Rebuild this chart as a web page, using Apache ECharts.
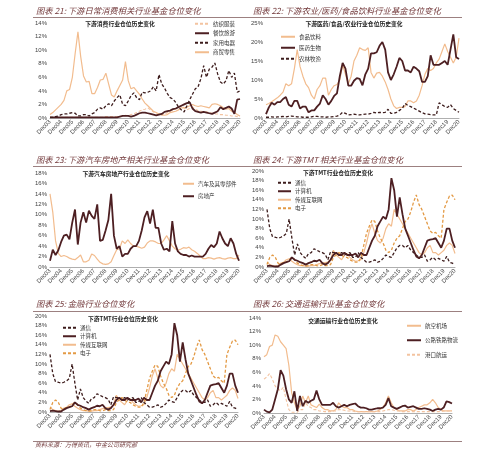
<!DOCTYPE html>
<html><head><meta charset="utf-8">
<script src="https://cdn.jsdelivr.net/npm/echarts@6/dist/echarts.min.js"></script>
<style>html,body{margin:0;padding:0;background:#fff}#c{width:500px;height:458px}</style>
</head><body><div id="c"></div>
<script>
// ---- categories (quarter ends, Dec03 .. Dec20) ----
const yearCodes = ['03','04','05','06','07','08','09','10','11','12','13','14','15','16','17','18','19','20'];
const quarterNames = ['Mar','Jun','Sep','Dec'];
const categories = ['Dec' + yearCodes[0]];
for (let i = 1; i < yearCodes.length; i++) for (const q of quarterNames) categories.push(q + yearCodes[i]);

// ---- Chart 21 ----
const c21_textile = [0.1,0.1,0.1,0.1,0.1,0.1,0.1,0.1,0.1,0.1, 0.1,0.1,0.1,0.1,0.1,0.1,0.1,0.1,0.1,0.1, 0.2,0.2,0.2,0.2,0.2,0.2,0.3,0.4,0.3,0.5, 0.6,0.8,1.0,1.2,1.3,1.5,1.2,0.9,0.6,0.5, 0.4,0.5,0.8,1.0,1.2,1.3,1.6,1.8,1.5,1.2, 1.4,1.6,1.3,1.1,1.0,0.9,0.9,0.8,0.7,0.6, 0.6,0.5,0.5,0.4,0.4,0.3,0.3,0.2,0.2];
const c21_catering = [0.1,0.1,0.1,0.1,0.1,0.1,0.1,0.1,0.1,0.1, 0.1,0.1,0.1,0.1,0.1,0.1,0.1,0.1,0.1,0.1, 0.1,0.1,0.1,0.1,0.1,0.2,0.3,0.3,0.3,0.2, 0.3,0.5,0.7,0.8,0.8,0.7,0.6,0.5,0.4,0.5, 0.6,0.9,1.0,1.1,1.3,1.4,1.6,1.8,2.0,2.2, 2.3,1.4,1.0,0.9,0.8,0.9,0.8,0.7,0.6,0.8, 1.0,1.6,1.3,1.5,1.7,1.4,0.6,2.7,2.8];
const c21_appliance = [0.1,0.1,0.2,0.3,0.5,0.6,0.6,0.7,0.8,0.7, 0.3,0.3,0.5,0.5,0.3,0.6,0.8,1.3,1.5,1.3, 1.8,2.1,1.8,2.5,3.0,3.4,2.0,1.8,2.5,3.3, 3.7,3.0,2.7,3.8,3.7,3.8,4.0,4.6,4.0,6.4, 5.0,4.4,3.6,3.0,2.8,2.3,1.6,1.2,0.9,1.8, 2.7,3.5,4.3,4.6,5.8,7.7,6.0,7.2,7.5,8.1, 6.5,5.3,5.0,5.5,7.0,6.0,6.6,3.8,4.0];
const c21_retail = [0.5,0.8,1.2,1.6,2.0,2.6,4.0,4.2,6.0,9.5, 12.7,9.0,6.2,5.3,5.4,3.6,3.6,4.5,5.6,5.7, 6.6,5.0,3.4,3.1,4.0,4.8,5.6,8.3,5.5,4.3, 4.5,4.0,3.5,2.8,2.2,1.8,1.4,1.0,0.8,0.6, 0.5,0.4,0.5,0.8,0.9,1.0,1.2,1.5,1.5,1.6, 1.8,2.0,1.8,1.7,1.8,1.7,1.6,1.5,2.0,2.1, 2.0,1.8,1.5,1.3,1.4,1.0,0.8,0.5,0.3];

// ---- Chart 22 ----
const c22_food = [3.5,3.8,4.3,4.8,5.3,6.0,6.8,9.0,8.5,9.0, 13.0,18.0,13.5,11.0,9.0,8.0,6.0,5.0,7.5,8.5, 10.5,10.5,6.0,7.5,8.5,8.8,10.0,14.0,11.5,9.0, 11.0,15.0,16.5,18.5,18.0,17.8,18.5,12.0,10.5,11.8, 12.0,11.0,9.5,7.5,5.0,3.2,2.5,2.8,2.8,3.0, 4.5,4.5,4.0,4.5,6.0,8.5,11.5,13.0,12.5,13.0, 14.5,15.5,17.5,19.5,17.5,16.0,14.5,16.0,21.0];
const c22_pharma = [1.0,2.8,4.0,3.5,4.2,4.2,5.0,5.5,3.5,3.0, 4.5,4.5,2.5,3.0,3.0,1.5,2.0,2.0,3.0,3.8, 6.0,5.0,3.5,4.5,5.8,6.5,11.0,14.5,13.0,8.5, 8.5,9.8,10.5,10.3,8.6,11.5,13.0,17.0,17.0,17.3, 19.0,20.0,18.0,12.0,10.0,11.5,13.5,15.8,15.0,12.5, 12.5,12.0,13.5,13.0,12.3,9.5,9.5,11.0,16.5,14.0, 14.0,14.0,14.5,15.0,14.0,18.0,22.0,16.0,15.5];
const c22_agri = [0.2,0.2,0.3,0.2,0.3,0.3,0.4,0.3,0.4,0.5, 0.4,0.3,0.3,0.2,0.2,0.2,0.3,0.5,0.4,0.3, 0.3,0.2,0.3,0.3,0.4,0.5,0.8,1.5,1.2,0.8, 0.9,1.0,0.9,0.8,0.9,1.0,1.0,1.2,1.5,1.3, 1.5,1.4,1.5,2.3,1.2,1.2,1.5,2.0,2.5,3.8, 3.3,3.0,2.6,2.2,1.8,1.4,1.1,1.0,0.9,0.8, 0.8,4.0,3.5,3.0,2.8,3.5,2.5,2.0,1.5];

// ---- Chart 23 ----
const c23_auto = [14.0,10.5,5.0,2.6,2.0,2.2,2.0,1.7,1.5,1.4, 1.8,2.3,1.0,1.0,1.3,2.5,2.2,1.5,0.9,0.6, 0.5,0.6,1.0,2.2,3.3,3.5,5.0,4.5,5.2,4.5, 4.0,4.0,3.8,3.6,3.8,4.6,5.0,5.0,4.8,4.5, 4.5,5.2,6.0,5.0,4.0,3.5,3.2,3.4,3.7,3.6, 3.8,3.3,3.0,2.6,2.1,1.6,1.6,1.8,1.7,1.5, 1.7,1.8,1.6,1.5,1.7,1.8,1.6,1.6,2.3];
const c23_realty = [1.2,3.3,2.3,3.2,4.8,6.0,6.2,5.3,8.5,11.0, 4.3,8.5,10.5,8.5,10.8,9.8,9.2,12.0,5.0,5.2, 7.0,9.0,14.0,6.0,3.5,4.0,2.0,2.5,2.5,3.5, 4.0,4.0,5.0,7.0,9.5,10.7,8.3,11.0,7.5,7.5, 4.5,3.3,3.5,3.0,8.8,4.5,3.0,2.5,2.3,2.3, 2.0,2.2,2.0,2.0,2.0,2.0,2.5,3.5,4.2,3.8, 4.5,6.8,5.5,4.5,4.0,5.5,4.5,2.5,1.2];

// ---- Chart 24 / 25 (TMT) ----
const tmt_telecom = [12.0,8.0,6.3,6.2,6.0,6.2,6.5,7.0,10.0,6.0, 2.5,4.8,3.0,2.3,1.8,2.8,3.0,3.8,3.5,3.2, 3.0,2.7,1.5,3.2,3.0,3.0,2.5,3.0,2.5,2.8, 3.0,2.0,2.0,3.0,2.0,1.5,1.0,1.0,1.2,1.5, 1.0,1.2,1.8,2.5,2.2,2.0,3.0,4.0,4.5,4.5, 4.0,4.5,3.5,3.0,2.5,2.0,2.0,2.5,1.2,1.5, 2.0,1.5,1.8,1.5,1.2,2.2,1.0,0.8,0.5];
const tmt_computer = [0.2,0.3,0.2,0.1,0.1,0.5,0.8,1.0,1.2,2.0, 1.5,1.3,1.0,0.8,0.5,0.8,1.0,1.3,1.2,1.5, 0.8,0.5,0.8,1.5,2.5,3.0,2.5,2.5,3.0,2.5, 2.5,2.5,2.8,2.0,3.0,2.5,2.5,4.0,5.5,6.5, 8.5,9.5,10.5,10.0,12.0,18.5,16.0,10.5,14.5,11.0, 8.0,6.5,5.0,3.5,2.2,1.8,2.5,4.0,5.5,5.7, 5.8,6.0,5.0,4.0,5.5,8.0,8.0,5.5,4.0];
const tmt_media = [1.0,0.5,0.3,0.2,0.3,0.8,1.0,1.5,1.7,1.2, 0.8,0.5,0.3,0.3,0.2,0.2,0.3,0.3,0.5,0.7, 0.8,0.9,1.0,1.5,3.5,2.5,2.0,1.5,2.5,2.8, 2.0,1.5,1.2,1.3,1.5,3.0,5.0,7.5,9.0,7.0, 5.5,5.0,6.0,8.0,9.0,8.5,12.0,11.0,10.0,9.0, 8.0,7.0,6.0,5.0,4.0,3.0,2.5,3.0,4.0,4.5, 3.0,3.0,2.5,3.0,3.5,4.5,5.0,4.5,2.8];
const tmt_electronics = [0.5,2.0,2.5,2.0,0.8,0.5,1.0,1.0,1.5,2.0, 1.5,0.8,0.5,0.3,0.2,0.3,0.5,0.5,0.3,0.2, 0.5,0.3,0.3,0.5,2.0,2.5,3.0,2.5,2.0,2.0, 1.5,1.2,1.0,1.0,2.0,4.5,7.0,8.5,9.8,9.5, 7.5,6.0,5.0,3.5,3.0,3.5,5.0,6.0,6.5,8.0, 9.5,10.0,11.5,13.5,15.0,13.0,12.0,10.5,9.0,7.5, 7.0,7.2,6.5,6.0,12.0,13.5,14.8,15.0,14.0];

// ---- Chart 26 ----
const c26_air = [8.3,8.6,9.8,10.0,11.5,11.3,10.5,10.0,9.5,7.0, 3.0,1.5,0.5,1.0,2.5,1.5,2.5,1.2,1.0,0.8, 1.3,0.8,0.5,0.5,0.3,0.3,0.5,1.5,1.0,0.8, 0.8,0.5,0.5,0.3,0.2,0.2,0.2,0.2,0.2,0.2, 0.2,0.3,0.5,0.8,1.5,2.5,1.5,0.8,0.5,0.3, 0.3,0.3,0.5,0.5,0.3,0.5,0.8,1.0,1.2,1.2, 1.5,2.0,1.5,0.8,0.5,0.3,0.3,0.3,0.3];
const c26_road = [0.5,0.2,0.1,0.5,2.0,3.5,6.3,5.5,3.5,2.0, 1.5,3.2,0.3,2.5,1.0,1.8,1.5,1.8,2.0,3.3, 2.0,1.2,1.2,1.2,1.2,1.5,1.0,0.8,1.0,1.2, 1.0,1.2,1.3,1.4,1.0,0.8,0.8,0.7,0.5,0.5, 0.6,0.7,0.7,0.8,1.2,2.2,1.0,0.8,0.6,0.8, 1.0,1.1,0.8,0.9,1.0,0.8,0.6,0.6,0.7,0.6, 0.5,0.3,0.5,0.6,0.5,0.8,1.7,1.6,1.4];
const c26_port = [5.0,5.3,5.8,5.0,4.0,3.5,3.3,3.8,2.0,0.5, 0.1,0.1,0.1,0.5,0.5,1.5,1.0,0.8,0.5,0.5, 0.3,0.3,0.2,0.2,0.2,0.3,0.3,0.5,0.5,0.4, 0.3,0.3,0.3,0.2,0.2,0.2,0.2,0.2,0.2,0.2, 0.2,0.2,0.2,0.3,0.4,0.5,0.5,0.4,0.3,0.3, 0.2,0.2,0.2,0.2,0.2,0.2,0.2,0.2,0.2,0.2, 0.2,0.2,0.2,0.2,0.2,0.3,0.3,0.3,0.3];

// ---- axis ranges ----
const yMax = [14, 25, 18, 20, 20, 14];
const yStep = [2, 5, 2, 2, 2, 2];

// ---- texts ----
const outerTitles = ['图表 21: 下游日常消费相关行业基金仓位变化','图表 22: 下游农业/医药/食品饮料行业基金仓位变化','图表 23: 下游汽车房地产相关行业基金仓位变化','图表 24: 下游TMT 相关行业基金仓位变化','图表 25: 金融行业仓位变化','图表 26: 交通运输行业基金仓位变化'];
const innerTitles = ['下游消费行业仓位历史变化','下游医药/食品/农业行业仓位历史变化','下游汽车房地产行业仓位历史变化','下游TMT行业仓位历史变化','下游TMT行业仓位历史变化','交通运输行业仓位历史变化'];
const sourceText = '资料来源：万得资讯，中金公司研究部';

// ---- styling ----
const PEACH = '#f2bc8e', DARK = '#4d1f22', DDASH = '#3d1c1c', LDASH = '#f3c3a0', ORANGE = '#e39a45';
const FONT = '"Noto Sans CJK SC", "Noto Sans", sans-serif';
const TITLE_C = '#72383a';

const grids = [
  {left:50, top:23, width:190, height:95},
  {left:266, top:23, width:193, height:95},
  {left:50, top:173, width:189, height:94},
  {left:267, top:171, width:188, height:96},
  {left:50, top:316, width:188, height:96},
  {left:264, top:318, width:188, height:95}
];
const outerPos = [[36,7],[253,7],[36,156],[253,156],[36,300],[253,300]];
const innerPos = [[120,25],[354,25],[126,175],[338,174],[123,320],[343,322]];

function S(name, data, g, color, width, dashed, z) {
  return {name, type:'line', data, xAxisIndex:g, yAxisIndex:g, symbol:'none', showSymbol:false,
    lineStyle:{color, width, type: dashed ? [3,2] : 'solid'}, itemStyle:{color}, z: z||2, animation:false};
}

const series = [
  S('纺织服装', c21_textile, 0, LDASH, 1.1, true),
  S('餐饮旅游', c21_catering, 0, DARK, 1.8, false, 3),
  S('家用电器', c21_appliance, 0, DDASH, 1.3, true, 3),
  S('商贸零售', c21_retail, 0, PEACH, 1.2, false),
  S('食品饮料', c22_food, 1, PEACH, 1.2, false),
  S('医药生物', c22_pharma, 1, DARK, 1.8, false, 3),
  S('农林牧渔', c22_agri, 1, DDASH, 1.3, true, 3),
  S('汽车及其零部件', c23_auto, 2, PEACH, 1.2, false),
  S('房地产', c23_realty, 2, DARK, 1.8, false, 3),
];
for (const g of [3,4]) {
  series.push(S('通信', tmt_telecom, g, DDASH, 1.3, true, 3));
  series.push(S('计算机', tmt_computer, g, DARK, 1.8, false, 3));
  series.push(S('传媒互联网', tmt_media, g, PEACH, 1.2, false));
  series.push(S('电子', tmt_electronics, g, ORANGE, 1.3, true));
}
series.push(S('航空机场', c26_air, 5, PEACH, 1.2, false));
series.push(S('公路铁路物流', c26_road, 5, DARK, 1.8, false, 3));
series.push(S('港口航运', c26_port, 5, LDASH, 1.1, true));

function L(left, top, gap, w, names) {
  return {left, top, orient:'vertical', itemGap:gap, itemWidth:w, itemHeight:5, padding:0,
    itemStyle:{opacity:0},
    textStyle:{fontSize:5.5, color:'#333', fontFamily:FONT, padding:[0,0,0,-1]}, data:names, selectedMode:false};
}
const legends = [
  L(194, 21, 4, 14, ['纺织服装','餐饮旅游','家用电器','商贸零售']),
  L(280, 34, 5.5, 14, ['食品饮料','医药生物','农林牧渔']),
  L(182, 181, 7, 11, ['汽车及其零部件','房地产']),
  L(277, 180, 3, 13, ['通信','计算机','传媒互联网','电子']),
  L(62, 325, 3, 13, ['通信','计算机','传媒互联网','电子']),
  L(406, 323, 9, 14, ['航空机场','公路铁路物流','港口航运'])
];

const xAxes = grids.map((_, i) => ({
  type:'category', gridIndex:i, data:categories, boundaryGap:false,
  axisLine:{lineStyle:{color:'#9a9a9a', width:0.8}}, axisTick:{show:false},
  axisLabel:{interval:3, rotate:45, fontSize:6, color:'#444', margin:3, fontFamily:'Liberation Sans, Arial'},
  splitLine:{show:false}
}));
const yAxes = grids.map((_, i) => ({
  type:'value', gridIndex:i, min:0, max:yMax[i], interval:yStep[i],
  axisLine:{show:false}, axisTick:{show:false}, splitLine:{show:false},
  axisLabel:{fontSize:6, color:'#444', margin:3, formatter:'{value}%', fontFamily:'Liberation Sans, Arial'}
}));

const titles = [];
outerTitles.forEach((t, i) => titles.push({text:t, left:outerPos[i][0], top:outerPos[i][1], padding:0,
  textStyle:{fontSize:8.3, fontStyle:'italic', fontWeight:'normal', color:TITLE_C, fontFamily:FONT}}));
innerTitles.forEach((t, i) => titles.push({text:t, left:innerPos[i][0], top:innerPos[i][1]-4, padding:0, textAlign:'center',
  textStyle:{fontSize:5.8, fontWeight:'bold', color:'#222', fontFamily:FONT}}));
titles.push({text:sourceText, left:35, top:442, padding:0,
  textStyle:{fontSize:6, fontStyle:'italic', fontWeight:'normal', color:TITLE_C, fontFamily:FONT}});

const ruleYs = [17.5, 166.5, 311.5, 441.5];
const graphic = ruleYs.map(y => ({type:'line', shape:{x1:33, y1:y, x2:462, y2:y}, style:{stroke:'#9c8080', lineWidth:1}, silent:true}));

const chart = echarts.init(document.getElementById('c'), null, {renderer:'canvas'});
chart.setOption({
  animation:false, backgroundColor:'#fff',
  title:titles, legend:legends, grid:grids, xAxis:xAxes, yAxis:yAxes, series, graphic
});
</script></body></html>
